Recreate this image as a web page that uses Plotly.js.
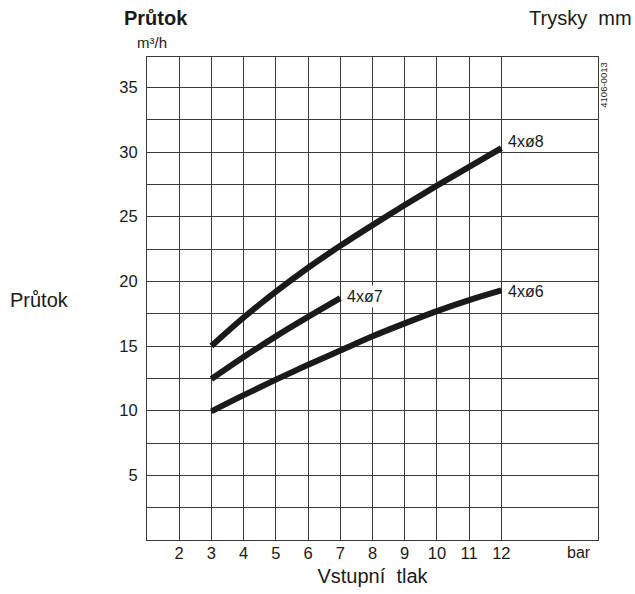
<!DOCTYPE html>
<html>
<head>
<meta charset="utf-8">
<script src="https://cdn.plot.ly/plotly-3.0.1.min.js"></script>
<style>html,body{margin:0;padding:0;background:#fff;}#chart{width:635px;height:594px;}</style>
</head>
<body>
<div id="chart"></div>
<script>
// Data
const pressure8 = [3, 4, 5, 6, 7, 8, 9, 10, 11, 12];
const flow8     = [15.0, 17.2, 19.2, 21.05, 22.75, 24.35, 25.9, 27.4, 28.85, 30.3];
const pressure7 = [3, 4, 5, 6, 7];
const flow7     = [12.45, 14.15, 15.75, 17.25, 18.7];
const pressure6 = [3, 4, 5, 6, 7, 8, 9, 10, 11, 12];
const flow6     = [9.95, 11.2, 12.4, 13.55, 14.65, 15.75, 16.75, 17.7, 18.55, 19.3];
const seriesNames = ["4xø8", "4xø7", "4xø6"];
const xTickVals = [2, 3, 4, 5, 6, 7, 8, 9, 10, 11, 12];
const yTickVals = [5, 10, 15, 20, 25, 30, 35];

const FONT = "Liberation Sans, Arial, Helvetica, sans-serif";
const INK = "#1a1a1a";
const GRID = "#3a3a3a";

function curve(x, y, name) {
  return {
    x: x, y: y, name: name, type: "scatter", mode: "lines",
    line: {color: INK, width: 6, shape: "spline", smoothing: 1},
    hoverinfo: "skip", showlegend: false
  };
}
const data = [
  curve(pressure8, flow8, seriesNames[0]),
  curve(pressure7, flow7, seriesNames[1]),
  curve(pressure6, flow6, seriesNames[2])
];

function endLabel(xs, ys, text, bg, dy) {
  return {
    x: xs[xs.length - 1], y: ys[ys.length - 1], xref: "x", yref: "y",
    text: text, showarrow: false, xanchor: "left", yanchor: "middle",
    xshift: 4, yshift: dy,
    font: {family: FONT, size: 16, color: INK},
    bgcolor: bg ? "#ffffff" : "rgba(0,0,0,0)", borderpad: 2
  };
}

const layout = {
  width: 635, height: 594,
  margin: {l: 147, r: 37, t: 57, b: 54, pad: 0},
  paper_bgcolor: "#ffffff", plot_bgcolor: "#ffffff",
  font: {family: FONT, color: INK, size: 16},
  xaxis: {
    range: [1, 15], tickmode: "array", tickvals: xTickVals,
    ticks: "", showgrid: true, gridcolor: GRID, gridwidth: 1,
    zeroline: false, showline: true, linecolor: GRID, linewidth: 1, mirror: true,
    tickfont: {family: FONT, size: 16.5, color: INK},
    ticklabelstandoff: -2,
    title: {text: "Vstupní\u00a0\u00a0tlak", font: {family: FONT, size: 20, color: INK}, standoff: 8}
  },
  yaxis: {
    range: [0, 37.35], tickmode: "array", tickvals: yTickVals,
    ticks: "", showgrid: true, gridcolor: GRID, gridwidth: 1,
    minor: {dtick: 2.5, tick0: 0, showgrid: true, gridcolor: GRID, gridwidth: 1, ticks: ""},
    zeroline: false, showline: true, linecolor: GRID, linewidth: 1, mirror: true,
    tickfont: {family: FONT, size: 16.5, color: INK},
    ticklabelstandoff: 5
  },
  annotations: [
    endLabel(pressure8, flow8, seriesNames[0], false, 7),
    endLabel(pressure7, flow7, seriesNames[1], true, 1.5),
    endLabel(pressure6, flow6, seriesNames[2], false, -1.5),
    {xref: "paper", yref: "paper", x: (156 - 147) / 451, y: (540.3 - 18) / 483,
     text: "<b>Průtok</b>", showarrow: false, xanchor: "center", yanchor: "middle",
     font: {family: FONT, size: 20, color: INK}},
    {xref: "paper", yref: "paper", x: (152 - 147) / 451, y: (540.3 - 43) / 483,
     text: "m³/h", showarrow: false, xanchor: "center", yanchor: "middle",
     font: {family: FONT, size: 15, color: INK}},
    {xref: "paper", yref: "paper", x: (634 - 147) / 451, y: (540.3 - 18) / 483,
     text: "Trysky\u00a0\u00a0mm", showarrow: false, xanchor: "right", yanchor: "middle",
     font: {family: FONT, size: 20, color: INK}},
    {xref: "paper", yref: "paper", x: (39 - 147) / 451, y: (540.3 - 300) / 483,
     text: "Průtok", showarrow: false, xanchor: "center", yanchor: "middle",
     font: {family: FONT, size: 20, color: INK}},
    {xref: "paper", yref: "paper", x: (578.7 - 147) / 451, y: (540.3 - 553) / 483,
     text: "bar", showarrow: false, xanchor: "center", yanchor: "middle",
     font: {family: FONT, size: 16, color: INK}},
    {xref: "paper", yref: "paper", x: (604 - 147) / 451, y: (540.3 - 86) / 483,
     text: "4106-0013", showarrow: false, xanchor: "center", yanchor: "middle",
     textangle: -90, font: {family: FONT, size: 9.5, color: INK}}
  ]
};

Plotly.newPlot("chart", data, layout, {staticPlot: true, displayModeBar: false});
</script>
</body>
</html>
